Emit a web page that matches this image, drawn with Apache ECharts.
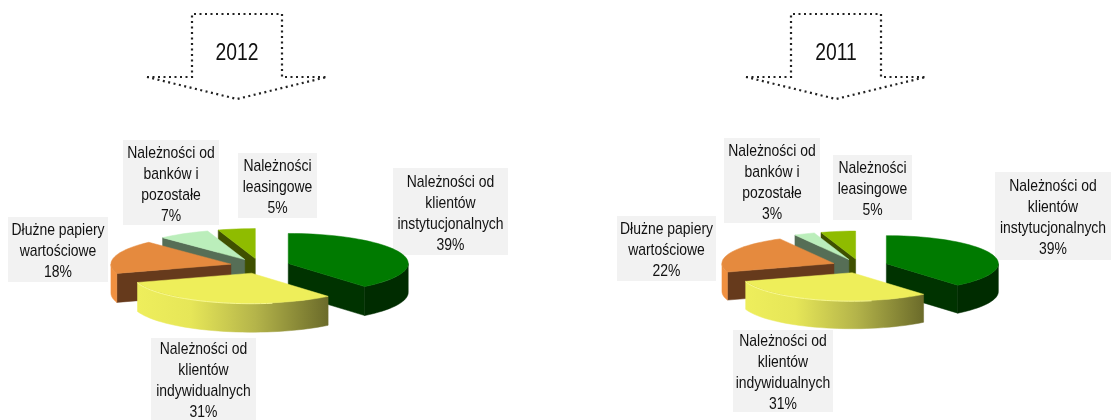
<!DOCTYPE html>
<html>
<head>
<meta charset="utf-8">
<style>html,body{margin:0;padding:0;background:#fff}#chart{width:1111px;height:420px}</style>
<script src="https://cdn.jsdelivr.net/npm/echarts@6/dist/echarts.min.js"></script>
</head>
<body>
<div id="chart"></div>
<script>
// Portfolio structure by receivable type, one exploded 3D pie per year.
const categories = [
  'Należności od\nklientów\ninstytucjonalnych',
  'Należności od\nklientów\nindywidualnych',
  'Dłużne papiery\nwartościowe',
  'Należności od\nbanków i\npozostałe',
  'Należności\nleasingowe'
];
const values2012 = [39, 31, 18, 7, 5];
const values2011 = [39, 31, 22, 3, 5];
const years = ['2012', '2011'];

// Back-to-front paint order of the slices.
const paintOrder = [4, 3, 2, 0, 1];

const topColors = ['#007a00', '#eeee5a', '#e58a3e', '#bbeebb', '#8fbc00'];
const cutColors = ['#003300', '#6b6b2a', '#663a1c', '#566e56', '#3f5000'];
const rimColors = ['#002c00', null, '#f09040', '#566e56', '#3f5000'];

const LABEL_FONT = '17px "Liberation Sans", sans-serif';
const LABEL_SQUEEZE = 0.82;
const YEAR_FONT = '23px "Liberation Sans", sans-serif';
const YEAR_SQUEEZE = 0.84;
const LINE_H = 21;

// Pie geometry and label boxes [x, y, w, h] per year.
const pies = [
  { cx: 260, cy: 266, rx: 120, ry: 30, depth: 29,
    boxes: [[393,168,115,87],[151,338,105,82],[8,217,100,65],[123,140,96,85],[238,153,79,65]] },
  { cx: 860, cy: 266, rx: 112, ry: 28, depth: 28,
    boxes: [[995,172,116,88],[733,330,100,82],[617,216,99,65],[724,138,96,85],[833,155,79,65]] }
];
const arrowOffsets = [0, 599];
const EXPLODE = 0.25;

function arcPoints(c, p, a0, a1, dy) {
  const pts = [];
  const n = Math.max(2, Math.ceil((a1 - a0) / 3));
  for (let i = 0; i <= n; i++) {
    const a = (a0 + (a1 - a0) * i / n) * Math.PI / 180;
    pts.push([c[0] + Math.sin(a) * p.rx, c[1] - Math.cos(a) * p.ry + dy]);
  }
  return pts;
}

function pieSeries(values, p) {
  const total = values.reduce((s, v) => s + v, 0);
  const data = values.map((v, i) => [i, v]);
  return {
    type: 'custom',
    coordinateSystem: 'none',
    silent: true,
    data,
    renderItem(params, api) {
      const i = api.value(0);
      const before = values.slice(0, i).reduce((s, v) => s + v, 0);
      const a0 = before / total * 360;
      const a1 = (before + api.value(1)) / total * 360;
      const mid = (a0 + a1) / 2 * Math.PI / 180;
      const c = [
        p.cx + Math.sin(mid) * p.rx * EXPLODE,
        p.cy - Math.cos(mid) * p.ry * EXPLODE
      ];
      const base = paintOrder.indexOf(i) * 10 + 10;
      const d = p.depth;
      const children = [];
      const poly = (points, fill, z, stroke) => children.push({
        type: 'polygon', shape: { points }, z2: base + z,
        style: { fill, stroke: stroke || fill, lineWidth: stroke ? 1 : 0.5 }
      });
      const edge = a => {
        const r = a * Math.PI / 180;
        return [c[0] + Math.sin(r) * p.rx, c[1] - Math.cos(r) * p.ry];
      };
      // cut faces that turn towards the viewer
      if (Math.sin(a0 * Math.PI / 180) < -1e-6) {
        const e = edge(a0);
        poly([c, e, [e[0], e[1] + d], [c[0], c[1] + d]], cutColors[i], 0);
      }
      if (Math.sin(a1 * Math.PI / 180) > 1e-6) {
        const e = edge(a1);
        poly([c, e, [e[0], e[1] + d], [c[0], c[1] + d]], cutColors[i], 0);
      }
      // outer wall, front half only
      const s0 = Math.max(a0, 90), s1 = Math.min(a1, 270);
      if (s1 > s0) {
        const up = arcPoints(c, p, s0, s1, 0);
        const low = arcPoints(c, p, s0, s1, d).reverse();
        let fill = rimColors[i];
        if (i === 1) {
          const xs = up.map(q => q[0]);
          const minX = Math.min(...xs), maxX = Math.max(...xs);
          fill = new echarts.graphic.LinearGradient(minX, 0, maxX, 0, [
            { offset: 0, color: '#eeee5c' },
            { offset: 0.28, color: '#e6e658' },
            { offset: 0.62, color: '#b4b44a' },
            { offset: 1, color: '#6b6b2a' }
          ], true);
        }
        poly(up.concat(low), fill, 1);
      }
      // top face
      poly([c].concat(arcPoints(c, p, a0, a1, 0)), topColors[i], 2);
      if (i === 1) {
        children.push({
          type: 'polyline', z2: base + 3,
          shape: { points: arcPoints(c, p, 170, a1, 0.5) },
          style: { fill: 'none', stroke: '#f8f890', lineWidth: 1 }
        });
      }
      // label box behind the pie, category and share above everything
      const b = p.boxes[i];
      children.push({
        type: 'rect', z2: 1,
        shape: { x: b[0], y: b[1], width: b[2], height: b[3] },
        style: { fill: '#f2f2f2' }
      });
      children.push({
        type: 'text', z2: 101,
        x: b[0] + b[2] / 2,
        y: b[1] + b[3] / 2 + 2,
        scaleX: LABEL_SQUEEZE,
        style: {
          text: categories[i] + '\n' + api.value(1) + '%',
          x: 0, y: 0,
          align: 'center', verticalAlign: 'middle',
          font: LABEL_FONT, lineHeight: LINE_H, fill: '#111'
        }
      });
      return { type: 'group', children };
    }
  };
}

function arrowGraphic(year, dx) {
  const pts = [[147,77],[192,77],[192,14],[282,14],[282,77],[327,77],[237,99],[147,77]]
    .map(q => [q[0] + dx, q[1]]);
  return [{
    type: 'polyline', silent: true,
    shape: { points: pts },
    style: { fill: 'none', stroke: '#222', lineWidth: 2.2, lineDash: [2, 3.5], lineCap: 'butt' }
  }, {
    type: 'text', silent: true,
    x: 237 + dx, y: 54,
    scaleX: YEAR_SQUEEZE,
    style: {
      text: year, x: 0, y: 0, align: 'center', verticalAlign: 'middle',
      font: YEAR_FONT, fill: '#111'
    }
  }];
}

const chart = echarts.init(document.getElementById('chart'), null, { renderer: 'canvas' });
chart.setOption({
  animation: false,
  backgroundColor: '#fff',
  graphic: { elements: years.flatMap((y, k) => arrowGraphic(y, arrowOffsets[k])) },
  series: [pieSeries(values2012, pies[0]), pieSeries(values2011, pies[1])]
});
</script>
</body>
</html>
